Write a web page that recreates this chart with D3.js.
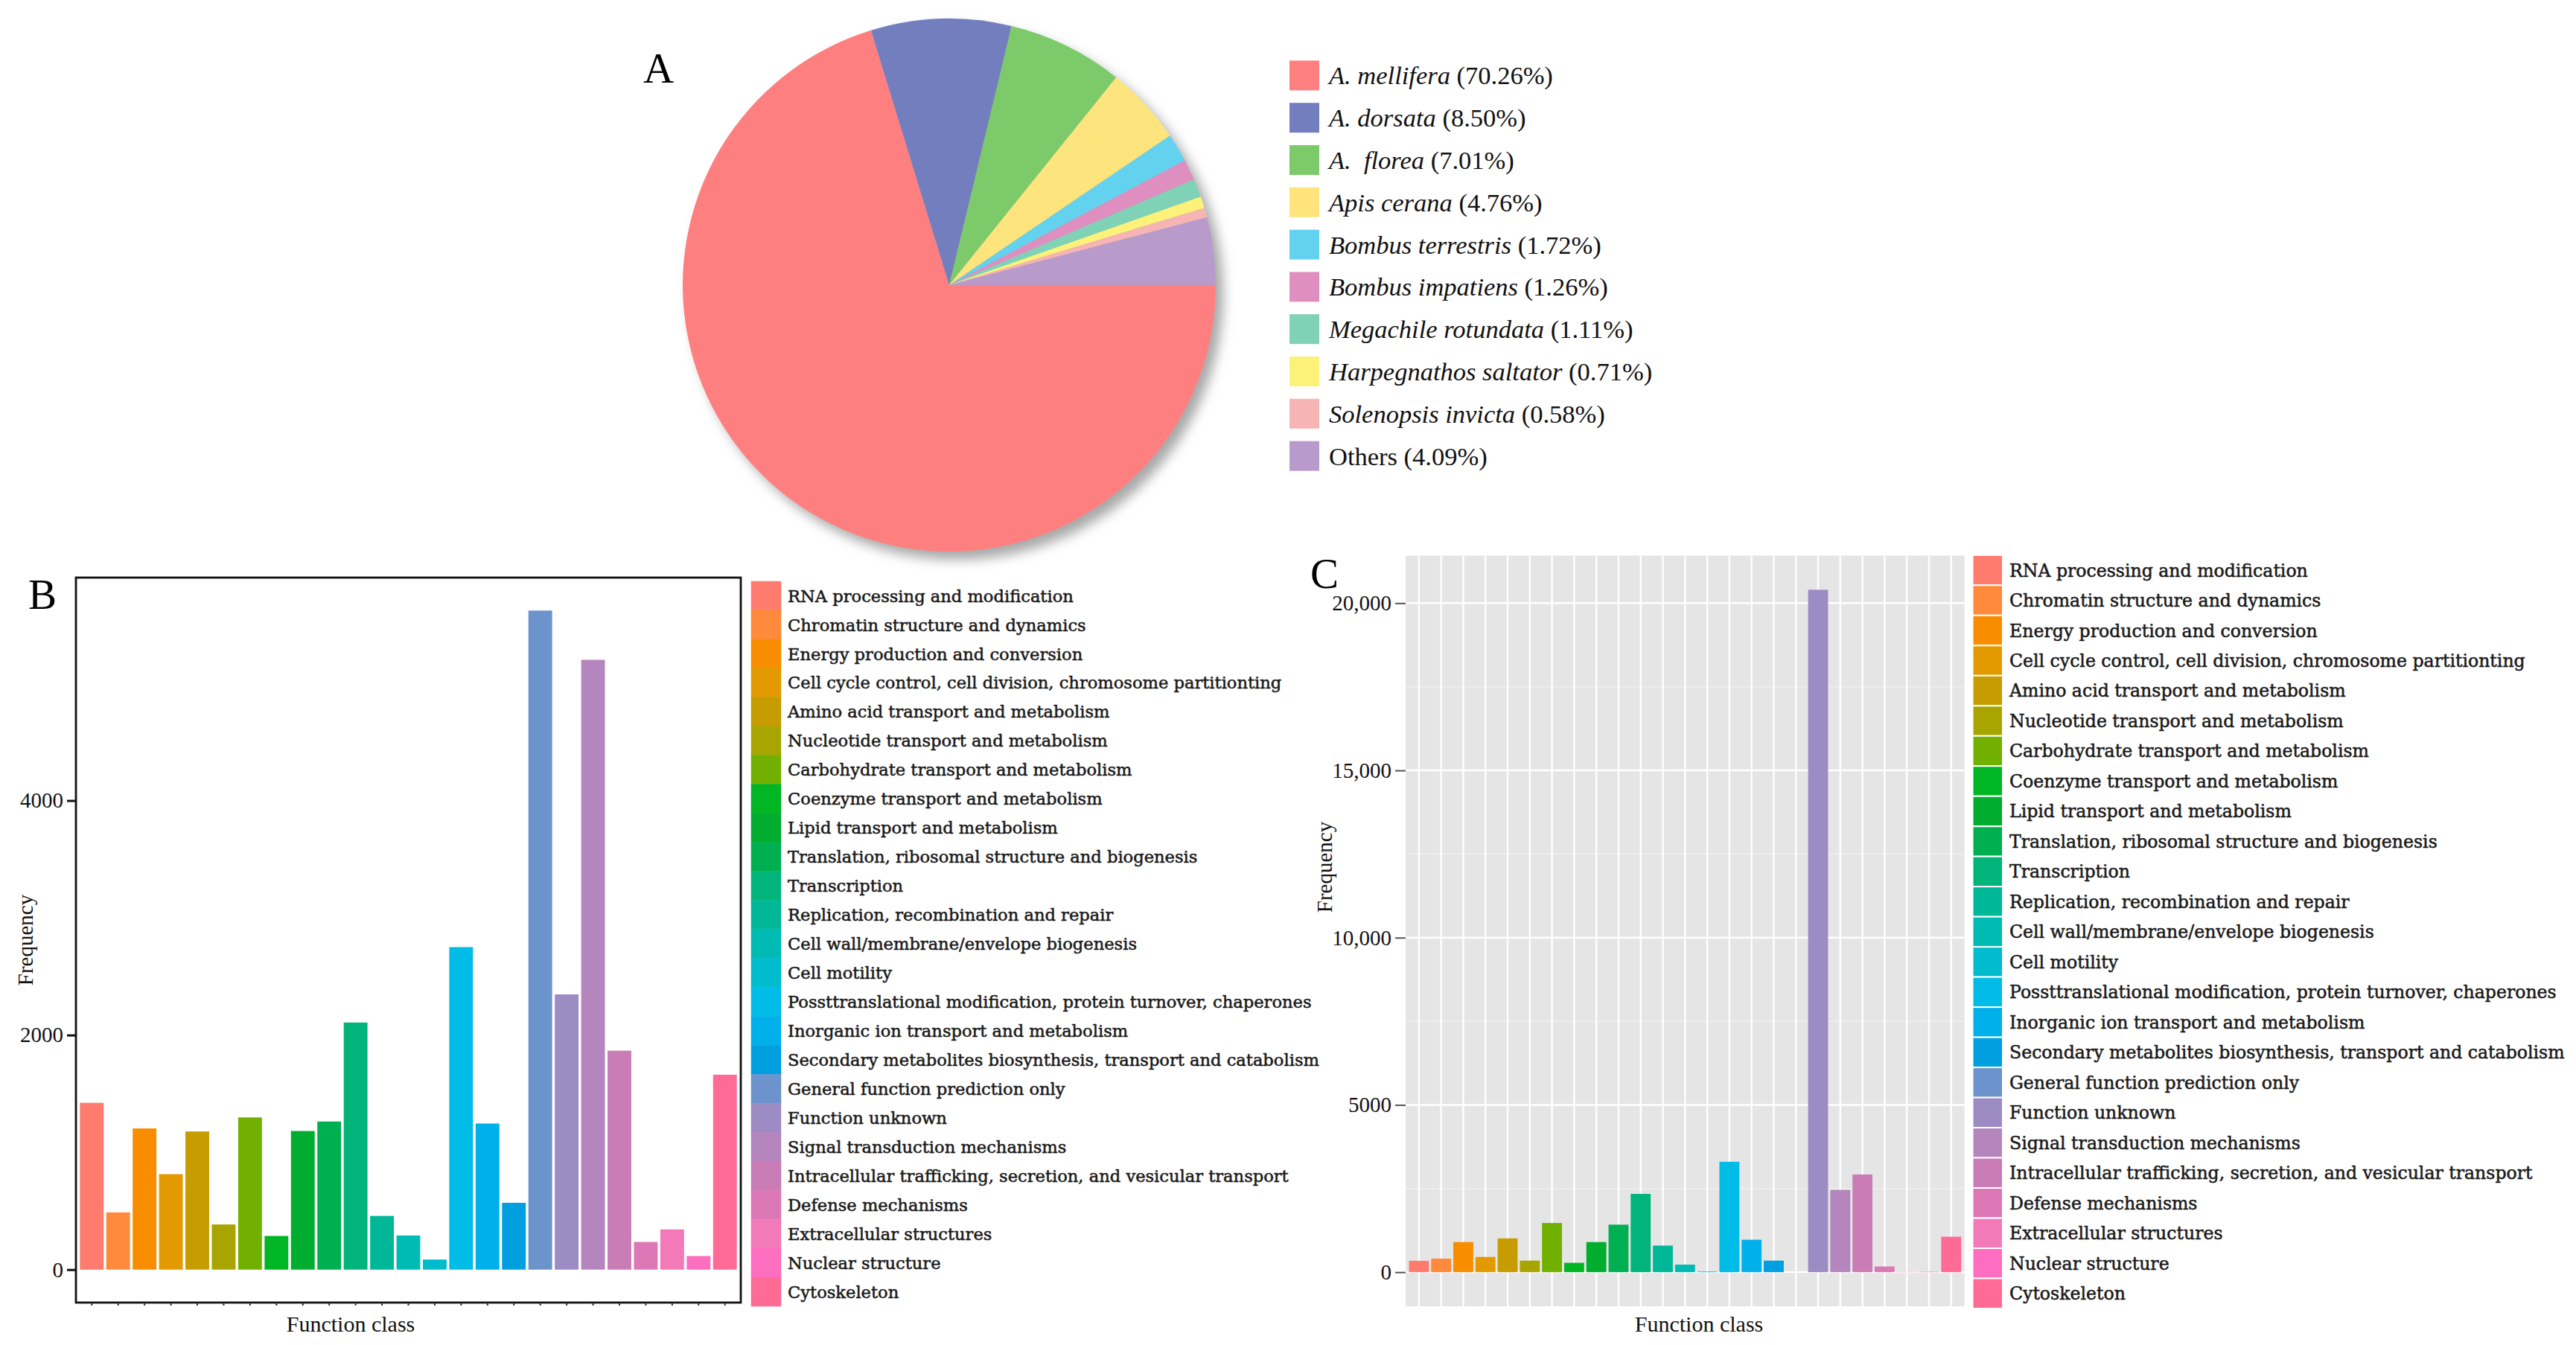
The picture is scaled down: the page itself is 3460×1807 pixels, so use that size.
<!DOCTYPE html>
<html lang="en">
<head>
<meta charset="UTF-8">
<title>Species distribution and KOG function classes</title>
<script src="https://cdn.jsdelivr.net/npm/d3@7"></script>
<style>
  html, body { margin: 0; padding: 0; background: #fff; }
  svg text { font-family: "Liberation Serif", "Times New Roman", serif; fill: #111; }
  .kog-legend text { font-family: "DejaVu Serif", serif; fill: #1a1a1a; stroke: #1a1a1a; stroke-width: 0.55px; }
</style>
</head>
<body>
<svg id="chart" width="3460" height="1807"></svg>
<script>
// ---- data ----
const speciesNames = ["A. mellifera", "A. dorsata", "A.  florea", "Apis cerana", "Bombus terrestris",
  "Bombus impatiens", "Megachile rotundata", "Harpegnathos saltator", "Solenopsis invicta", "Others"];
const speciesPct = [70.26, 8.50, 7.01, 4.76, 1.72, 1.26, 1.11, 0.71, 0.58, 4.09];
const speciesItalic = [true, true, true, true, true, true, true, true, true, false];
const speciesColors = ["#fe7f80", "#737ebf", "#7cca69", "#fee47b", "#63d2ef",
  "#de8fc0", "#7fd2b6", "#fdf279", "#f7b4b4", "#b99bcb"];

const functionClasses = [
  "RNA processing and modification",
  "Chromatin structure and dynamics",
  "Energy production and conversion",
  "Cell cycle control, cell division, chromosome partitionting",
  "Amino acid transport and metabolism",
  "Nucleotide transport and metabolism",
  "Carbohydrate transport and metabolism",
  "Coenzyme transport and metabolism",
  "Lipid transport and metabolism",
  "Translation, ribosomal structure and biogenesis",
  "Transcription",
  "Replication, recombination and repair",
  "Cell wall/membrane/envelope biogenesis",
  "Cell motility",
  "Possttranslational modification, protein turnover, chaperones",
  "Inorganic ion transport and metabolism",
  "Secondary metabolites biosynthesis, transport and catabolism",
  "General function prediction only",
  "Function unknown",
  "Signal transduction mechanisms",
  "Intracellular trafficking, secretion, and vesicular transport",
  "Defense mechanisms",
  "Extracellular structures",
  "Nuclear structure",
  "Cytoskeleton"
];
const classColors = ["#fe7b6d", "#ff8a3c", "#f88d00", "#e29a00", "#c69c00",
  "#a8a500", "#72b000", "#00b624", "#00ad2e", "#00b050",
  "#00b47a", "#00b898", "#00bbb3", "#00bccc", "#00bce6",
  "#00b0ea", "#009fdf", "#6d93cc", "#9d8bc4", "#b585bd",
  "#c97cb5", "#dc78b6", "#f37ab9", "#fe6ec0", "#ff6b95"];

const freqB = [1422, 488, 1204, 814, 1178, 385, 1298, 287, 1182, 1263,
  2107, 458, 291, 86, 2750, 1246, 570, 5620, 2347, 5200,
  1867, 236, 343, 116, 1662];
const freqC = [340, 405, 900, 455, 1010, 345, 1470, 280, 900, 1420,
  2340, 795, 225, 20, 3300, 970, 345, 0, 20400, 2460,
  2920, 170, 10, 15, 1060];

const ticksB = [0, 2000, 4000];
const ticksC = [0, 5000, 10000, 15000, 20000];
const tickLabelsC = ["0", "5000", "10,000", "15,000", "20,000"];
const minorTicksC = [2500, 7500, 12500, 17500];

// ---- setup ----
const svg = d3.select("#chart");
const defs = svg.append("defs");
const shadow = defs.append("filter").attr("id", "pieShadow")
  .attr("x", "-20%").attr("y", "-20%").attr("width", "140%").attr("height", "140%");
shadow.append("feDropShadow")
  .attr("dx", 10).attr("dy", 11).attr("stdDeviation", 8)
  .attr("flood-color", "#8a8a8a").attr("flood-opacity", 0.75);

function panelLabel(txt, x, y) {
  svg.append("text").attr("x", x).attr("y", y)
    .style("font-size", "57px").style("fill", "#000").text(txt);
}

// ---- panel A: pie ----
const pieCx = 1275, pieCy = 383, pieR = 358;
const pie = d3.pie().sort(null).startAngle(Math.PI / 2).endAngle(Math.PI / 2 + 2 * Math.PI);
const arc = d3.arc().innerRadius(0).outerRadius(pieR);

svg.append("g")
  .attr("transform", `translate(${pieCx},${pieCy})`)
  .attr("filter", "url(#pieShadow)")
  .selectAll("path")
  .data(pie(speciesPct))
  .join("path")
  .attr("d", arc)
  .attr("fill", (d, i) => speciesColors[i]);

panelLabel("A", 864, 111);

const rowA = d3.scaleBand().domain(speciesNames).range([73, 641]);
const legA = svg.append("g");
const itemA = legA.selectAll("g").data(speciesNames).join("g")
  .attr("transform", d => `translate(0,${rowA(d) + rowA.bandwidth() / 2})`);
itemA.append("rect")
  .attr("x", 1732).attr("y", -20).attr("width", 40).attr("height", 40)
  .attr("fill", (d, i) => speciesColors[i]);
const txtA = itemA.append("text")
  .attr("x", 1785).attr("y", 12)
  .style("font-size", "34.5px").style("white-space", "pre");
txtA.append("tspan")
  .style("font-style", (d, i) => speciesItalic[i] ? "italic" : "normal")
  .text(d => d);
txtA.append("tspan")
  .text((d, i) => " (" + d3.format(".2f")(speciesPct[i]) + "%)");

// ---- shared legend for function classes ----
function classLegend(x0, y0, y1, cellW, fontSize, gap) {
  const row = d3.scaleBand().domain(functionClasses).range([y0, y1]);
  const g = svg.append("g").attr("class", "kog-legend");
  const item = g.selectAll("g").data(functionClasses).join("g")
    .attr("transform", d => `translate(0,${row(d)})`);
  item.append("rect")
    .attr("x", x0).attr("y", 0)
    .attr("width", cellW).attr("height", row.bandwidth())
    .attr("fill", (d, i) => classColors[i])
    .attr("stroke", gap ? "#fff" : (d, i) => classColors[i])
    .attr("stroke-width", gap ? 2 : 0.5);
  item.append("text")
    .attr("x", x0 + cellW + 9)
    .attr("y", row.bandwidth() / 2 + fontSize * 0.36)
    .style("font-size", fontSize + "px")
    .text(d => d);
}

// ---- panel B ----
const bL = 102, bR = 995, bT = 776, bB = 1750;
const bX = d3.scaleBand().domain(functionClasses).range([bL, bR]).paddingInner(0.1).paddingOuter(0.15);
const maxB = d3.max(freqB);
const bY = d3.scaleLinear().domain([-0.05 * maxB, 1.05 * maxB]).range([bB, bT]);

svg.append("g").selectAll("rect")
  .data(functionClasses).join("rect")
  .attr("x", d => bX(d))
  .attr("width", bX.bandwidth())
  .attr("y", (d, i) => bY(freqB[i]))
  .attr("height", (d, i) => bY(0) - bY(freqB[i]))
  .attr("fill", (d, i) => classColors[i]);

svg.append("rect")
  .attr("x", bL).attr("y", bT).attr("width", bR - bL).attr("height", bB - bT)
  .attr("fill", "none").attr("stroke", "#111").attr("stroke-width", 2.8);

const bYAxis = svg.append("g").attr("transform", `translate(${bL},0)`)
  .call(d3.axisLeft(bY).tickValues(ticksB).tickSize(12).tickPadding(5).tickFormat(d3.format("d")));
bYAxis.select(".domain").remove();
bYAxis.selectAll(".tick line").attr("stroke", "#111").attr("stroke-width", 3);
bYAxis.selectAll(".tick text").style("font-size", "29px").attr("fill", "#111")
  .style("font-family", "Liberation Serif");

const bXAxis = svg.append("g").attr("transform", `translate(0,${bB})`)
  .call(d3.axisBottom(bX).tickSize(4).tickFormat(""));
bXAxis.select(".domain").remove();
bXAxis.selectAll(".tick line").attr("stroke", "#333").attr("stroke-width", 2);

svg.append("text").attr("transform", `translate(44,${(bT + bB) / 2}) rotate(-90)`)
  .attr("text-anchor", "middle").style("font-size", "29px").text("Frequency");
svg.append("text").attr("x", 471).attr("y", 1789)
  .attr("text-anchor", "middle").style("font-size", "30px").text("Function class");
panelLabel("B", 38, 818);

classLegend(1009, 781, 1755, 40, 22.6, false);

// ---- panel C ----
const cL = 1888, cR = 2638.6, cT = 746.5, cB = 1755;
const cX = d3.scaleBand().domain(functionClasses).range([cL, cR]).paddingInner(0.1).paddingOuter(0.15);
const maxC = d3.max(freqC);
const cY = d3.scaleLinear().domain([-0.05 * maxC, 1.05 * maxC]).range([cB, cT]);

svg.append("rect")
  .attr("x", cL).attr("y", cT).attr("width", cR - cL).attr("height", cB - cT)
  .attr("fill", "#e5e5e5");

const grid = svg.append("g");
grid.selectAll("line.minor").data(minorTicksC).join("line").attr("class", "minor")
  .attr("x1", cL).attr("x2", cR)
  .attr("y1", d => cY(d)).attr("y2", d => cY(d))
  .attr("stroke", "#f2f2f2").attr("stroke-width", 1.2);
grid.selectAll("line.major").data(ticksC).join("line").attr("class", "major")
  .attr("x1", cL).attr("x2", cR)
  .attr("y1", d => cY(d)).attr("y2", d => cY(d))
  .attr("stroke", "#fff").attr("stroke-width", 2.4);
grid.selectAll("line.vert").data(functionClasses).join("line").attr("class", "vert")
  .attr("x1", d => cX(d) + cX.bandwidth() / 2).attr("x2", d => cX(d) + cX.bandwidth() / 2)
  .attr("y1", cT).attr("y2", cB)
  .attr("stroke", "#fff").attr("stroke-width", 2.4);

svg.append("g").selectAll("rect")
  .data(functionClasses).join("rect")
  .attr("x", d => cX(d))
  .attr("width", cX.bandwidth())
  .attr("y", (d, i) => cY(freqC[i]))
  .attr("height", (d, i) => cY(0) - cY(freqC[i]))
  .attr("fill", (d, i) => classColors[i]);

const cYAxis = svg.append("g").attr("transform", `translate(${cL},0)`)
  .call(d3.axisLeft(cY).tickValues(ticksC).tickSize(14).tickPadding(5)
    .tickFormat((d, i) => tickLabelsC[i]));
cYAxis.select(".domain").remove();
cYAxis.selectAll(".tick line").attr("stroke", "#555").attr("stroke-width", 2);
cYAxis.selectAll(".tick text").style("font-size", "29px").attr("fill", "#1a1a1a")
  .style("font-family", "Liberation Serif");

svg.append("text").attr("transform", `translate(1789,1165) rotate(-90)`)
  .attr("text-anchor", "middle").style("font-size", "29px").text("Frequency");
svg.append("text").attr("x", 2282).attr("y", 1789)
  .attr("text-anchor", "middle").style("font-size", "30px").text("Function class");
panelLabel("C", 1760, 790);

classLegend(2649.5, 745.8, 1758, 40.5, 23.6, true);
</script>
</body>
</html>
